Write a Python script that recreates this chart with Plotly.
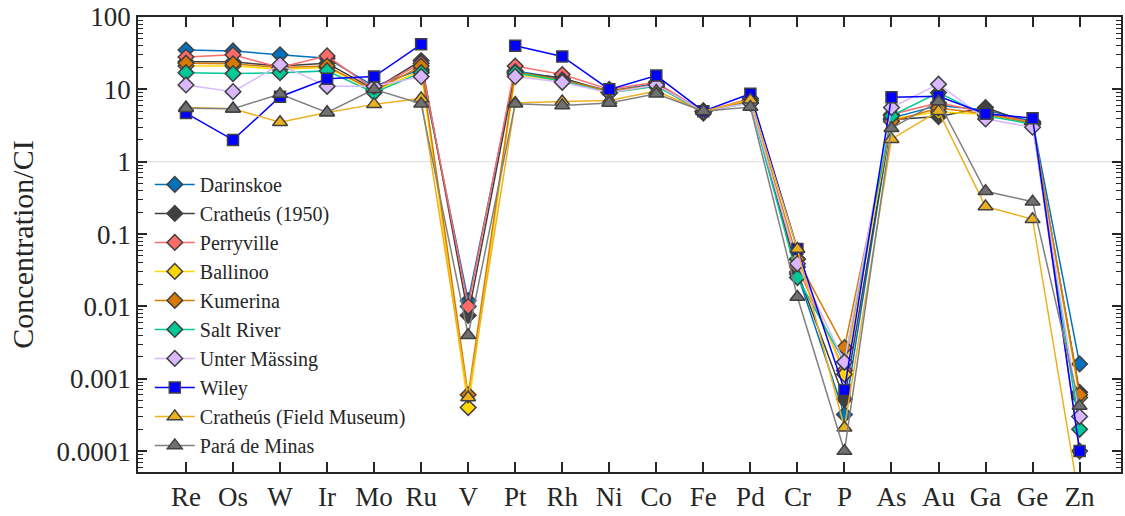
import plotly.graph_objects as go

elements = ["Re", "Os", "W", "Ir", "Mo", "Ru", "V", "Pt", "Rh", "Ni",
            "Co", "Fe", "Pd", "Cr", "P", "As", "Au", "Ga", "Ge", "Zn"]

darinskoe = [35, 34, 30, 27, 11, 19, 0.012, 18, 14, 9.5, 12, 5, 7, 0.028, 0.00032, 4, 6, 5.2, 3.6, 0.0016]
cratheus_1950 = [24, 24, 21, 23, 10, 25, 0.0075, 17, 14.5, 9, 11.5, 4.7, 7, 0.03, 0.00052, 3.8, 4.2, 5.6, 3.3, 0.00065]
perryville = [28, 30, 20, 29, 10, 23, 0.010, 21, 16, 10, 12.5, 4.9, 7.5, 0.035, 0.0013, 4.5, 6.5, 4.8, 3.5, 0.0001]
ballinoo = [21, 21, 19, 20, 9.5, 18, 0.0004, 16, 13, 9, 11, 5, 6.5, 0.045, 0.00115, 3.9, 4.9, 4.5, 3.4, 0.00055]
kumerina = [23, 22.5, 20, 21, 9.5, 21, 0.0006, 17.5, 13.5, 9.5, 11.5, 5, 7, 0.045, 0.0027, 3.6, 5.5, 4.6, 3.4, 0.0006]
salt_river = [17, 16.5, 17, 18, 9, 17, None, 17, 13, 9, 11, 5, 6.5, 0.025, 0.0017, 4.3, 9, 4.3, 3.3, 0.0002]
unter_massing = [11.5, 9.3, 22, 11, 11, 15, None, 15, 12.5, 9, 11.5, 5, 6.5, 0.039, 0.0017, 5.6, 11.8, 3.9, 3.0, 0.0003]
wiley = [4.7, 2.0, 7.9, 14, 15, 42, None, 40, 28.5, 10, 15.5, 5, 8.7, 0.062, 0.0007, 7.8, 8, 4.6, 4, 0.0001]
cratheus_fm = [5.6, 5.4, 3.5, 4.8, 6.2, 7.5, 0.00055, 6.5, 6.8, 7, 9.5, 5, 7.2, 0.062, 0.00021, 2.05, 5, 0.24, 0.16, 0.00002]
para_de_minas = [5.5, 5.4, 8.6, 4.8, 10, 6.3, 0.004, 6.3, 6, 6.5, 8.7, 5, 5.7, 0.0135, 0.0001, 2.9, 6.8, 0.39, 0.28, 0.00042]

series = [
    ("Darinskoe", darinskoe, "#0072BD", "#0072BD", "diamond", 12),
    ("Cratheús (1950)", cratheus_1950, "#404040", "#404040", "diamond", 12),
    ("Perryville", perryville, "#FF6B6B", "#FF6B6B", "diamond", 12),
    ("Ballinoo", ballinoo, "#FFD700", "#FFD700", "diamond", 12),
    ("Kumerina", kumerina, "#D97A00", "#D97A00", "diamond", 12),
    ("Salt River", salt_river, "#00C896", "#00C896", "diamond", 12),
    ("Unter Mässing", unter_massing, "#D9B8FF", "#D9B8FF", "diamond", 12),
    ("Wiley", wiley, "#0000FF", "#0000FF", "square", 11),
    ("Cratheús (Field Museum)", cratheus_fm, "#EDB120", "#EDB120", "triangle-up", 13),
    ("Pará de Minas", para_de_minas, "#808080", "#707070", "triangle-up", 13),
]

x_idx = list(range(len(elements)))

fig = go.Figure()
for name, vals, lcol, mcol, sym, sz in series:
    fig.add_trace(go.Scatter(
        x=x_idx, y=vals, name=name, mode="lines+markers",
        line=dict(color=lcol, width=1.5),
        marker=dict(symbol=sym, size=sz, color=mcol,
                    line=dict(color="#404040", width=1.5)),
    ))

font_family = "'Liberation Serif', serif"

ytickvals = [1e-4, 1e-3, 1e-2, 1e-1, 1, 10, 100]
yticktext = ["0.0001", "0.001", "0.01", "0.1", "1", "10", "100"]
minor_vals = [k * 10 ** d for d in range(-5, 2) for k in range(2, 10)]

fig.add_shape(type="line", xref="paper", yref="y", x0=0, x1=1, y0=1, y1=1,
              line=dict(color="#DADADA", width=1), layer="below")

fig.update_layout(
    width=1125, height=516,
    margin=dict(l=138, r=2, t=15, b=44),
    paper_bgcolor="white", plot_bgcolor="white",
    font=dict(family=font_family, color="#262626"),
    showlegend=True,
    legend=dict(x=0.012, y=0.675, xanchor="left", yanchor="top",
                bgcolor="rgba(255,255,255,0)", borderwidth=0,
                font=dict(size=20, family=font_family, color="#262626"),
                tracegroupgap=0, itemwidth=40),
    xaxis=dict(
        range=[-1.02, 19.88], tickmode="array", tickvals=x_idx, ticktext=elements,
        ticks="inside", ticklen=10, tickwidth=1.5, tickcolor="#262626",
        showline=True, linecolor="#262626", linewidth=1.5, mirror="ticks",
        showgrid=False, zeroline=False,
        tickfont=dict(size=27, family=font_family, color="#262626"),
    ),
    yaxis=dict(
        type="log", range=[-4.289, 2.0],
        tickmode="array", tickvals=ytickvals, ticktext=yticktext,
        ticks="inside", ticklen=9, tickwidth=1.5, tickcolor="#262626",
        minor=dict(tickmode="array", tickvals=minor_vals, ticks="inside",
                   ticklen=5, tickwidth=1, tickcolor="#262626", showgrid=False),
        showline=True, linecolor="#262626", linewidth=1.5, mirror="ticks",
        showgrid=False, zeroline=False,
        tickfont=dict(size=27, family=font_family, color="#262626"),
        title=dict(text="Concentration/CI", standoff=14,
                   font=dict(size=30, family=font_family, color="#262626")),
    ),
)

fig.write_html("out.html")
